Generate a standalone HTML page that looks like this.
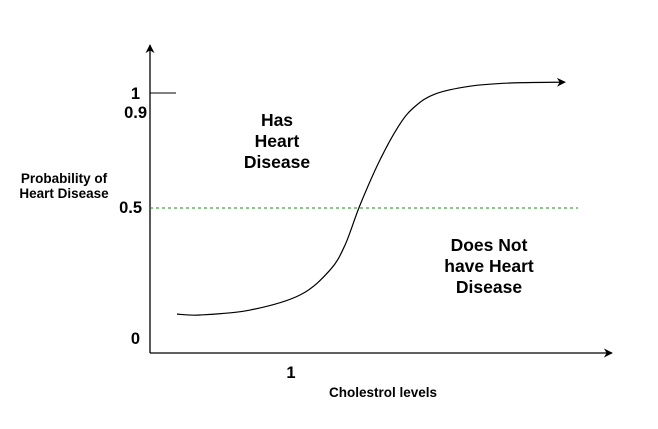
<!DOCTYPE html>
<html><head><meta charset="utf-8"><style>
body{margin:0;background:#fff}
svg{display:block;font-family:"Liberation Sans",Arial,sans-serif;font-weight:bold}
</style></head><body>
<svg width="658" height="429" viewBox="0 0 658 429">
<defs><marker id="ah" viewBox="0 0 10 10" refX="9" refY="5" markerWidth="9" markerHeight="9" orient="auto" markerUnits="userSpaceOnUse"><path d="M0,0 L10,5 L0,10 L3,5 z" fill="#000"/></marker></defs>
<line x1="150" y1="353" x2="150" y2="45" stroke="#000" stroke-width="1.3" marker-end="url(#ah)"/>
<line x1="150" y1="353" x2="612" y2="353" stroke="#000" stroke-width="1.3" marker-end="url(#ah)"/>
<line x1="150" y1="93" x2="176" y2="93" stroke="#000" stroke-width="1"/>
<line id="thr" x1="150" x2="578" stroke="#1a8a1a" stroke-width="1" stroke-dasharray="3,3"/>
<path id="curve" fill="none" stroke="#000" stroke-width="1.2" marker-end="url(#ah)"/>
<g font-size="16.5" text-anchor="end">
<text x="140" y="99">1</text>
<text x="147" y="118">0.9</text>
<text x="142" y="213">0.5</text>
<text x="140" y="344">0</text>
</g>
<text x="291" y="378" font-size="16.5" text-anchor="middle">1</text>
<g font-size="13.5" text-anchor="middle">
<text x="64" y="183">Probability of</text><text x="64" y="198">Heart Disease</text></g>
<text x="383" y="397" font-size="13.5" text-anchor="middle">Cholestrol levels</text>
<g font-size="17.5" text-anchor="middle">
<text x="277" y="126">Has</text><text x="277" y="147">Heart</text><text x="277" y="168">Disease</text></g>
<g font-size="17.5" text-anchor="middle">
<text x="489" y="251">Does Not</text><text x="489" y="272">have Heart</text><text x="489" y="293">Disease</text></g>
</svg>
<script>
const cholesterol=[0.27,0.5,1,1.5,1.8,1.95,2.1,2.3,2.5,2.65,2.85,3.2,3.6,4.15];
const probability=[0.134,0.131,0.148,0.2,0.286,0.372,0.51,0.666,0.79,0.85,0.893,0.92,0.931,0.934];
const threshold=[0.5];
function xs(c){return 150+c*100;}
function ys(p){return 353-p*290;}
const pts=cholesterol.map((c,i)=>[xs(c),ys(probability[i])]);
let d="M"+pts[0][0]+","+pts[0][1];
for(let i=0;i<pts.length-1;i++){const p0=pts[Math.max(i-1,0)],p1=pts[i],p2=pts[i+1],p3=pts[Math.min(i+2,pts.length-1)];
d+=" C"+(p1[0]+(p2[0]-p0[0])/6)+","+(p1[1]+(p2[1]-p0[1])/6)+" "+(p2[0]-(p3[0]-p1[0])/6)+","+(p2[1]-(p3[1]-p1[1])/6)+" "+p2[0]+","+p2[1];}
document.getElementById('curve').setAttribute('d',d);
const t=document.getElementById('thr');t.setAttribute('y1',ys(threshold[0]));t.setAttribute('y2',ys(threshold[0]));
</script>
</body></html>
